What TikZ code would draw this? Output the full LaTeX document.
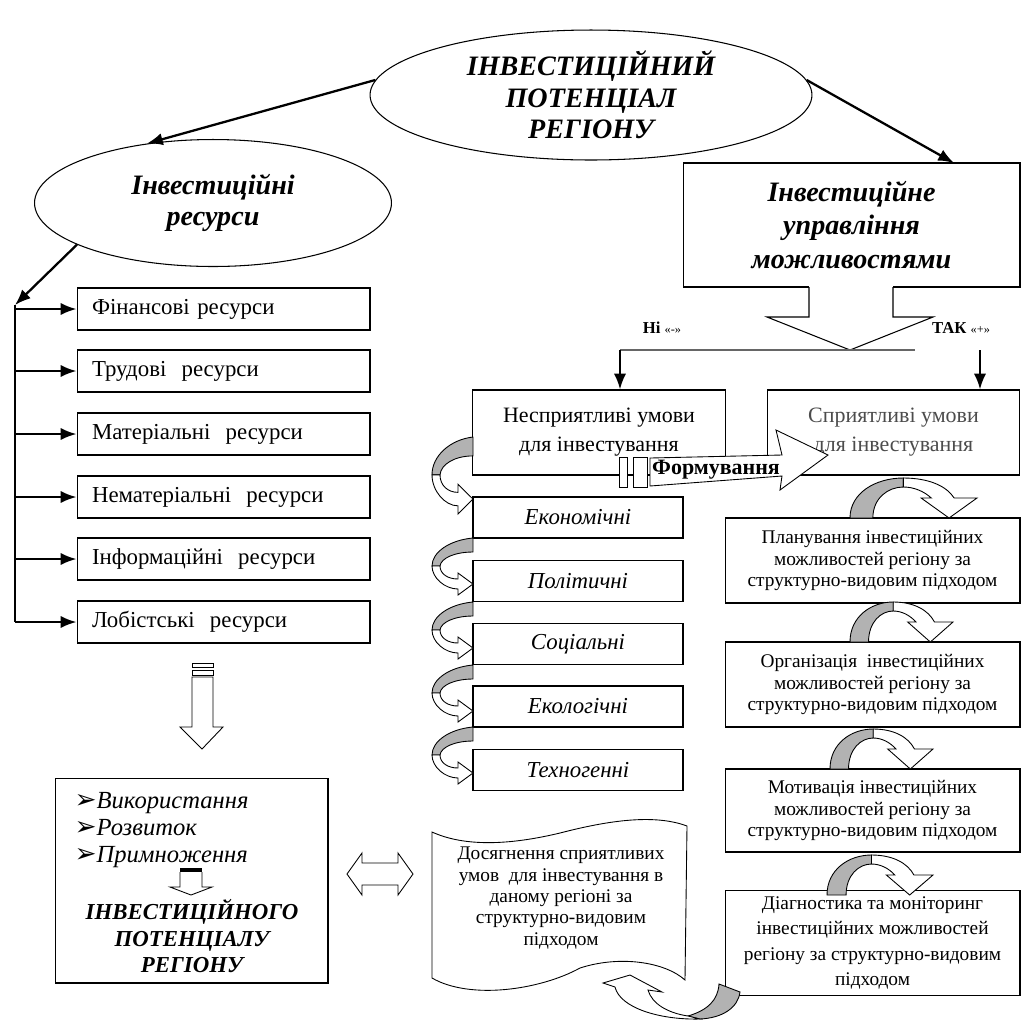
\documentclass[tikz,border=0pt]{standalone}
\usepackage{fontspec}
\setmainfont{Liberation Serif}
\newfontfamily\dejavu{DejaVu Sans}
\usepackage{tikz}
\usetikzlibrary{shapes.geometric,arrows.meta}

\begin{document}
\begin{tikzpicture}[x=0.02cm, y=-0.02cm, line width=0.6pt,
    oval/.style={ellipse, draw, align=center, inner sep=0pt,
        font=\fontsize{16}{18}\selectfont\bfseries\itshape},
    res/.style={draw, minimum height=0.84cm, text width=5.26cm, inner xsep=0.3cm,
        align=left, font=\fontsize{13}{15}\selectfont},
    factor/.style={draw, minimum width=4.2cm, minimum height=0.82cm,
        font=\fontsize{13}{15}\selectfont\itshape},
    cond/.style={draw, minimum width=5.05cm, minimum height=1.7cm, align=center,
        font=\fontsize{12.5}{16.5}\selectfont},
    stage/.style={draw, minimum width=5.9cm, minimum height=1.7cm, align=center,
        font=\fontsize{11}{12.2}\selectfont},
    arr/.style={line width=1.3pt, -{Latex[length=9pt, width=7pt]}},
    hollow/.style={draw, fill=white, line width=0.5pt},
    back/.style={draw, fill=black!30, line width=0.5pt}]
    \useasboundingbox (0,0) rectangle (1028,1019);

    % top level
    \node[oval, minimum width=8.84cm, minimum height=2.6cm] (potential) at (591,95)
        {ІНВЕСТИЦІЙНИЙ\\ПОТЕНЦІАЛ\\РЕГІОНУ};
    \node[oval, minimum width=7.14cm, minimum height=2.54cm] (resources) at (213,203)
        {Інвестиційні\\ресурси};
    \node[draw, minimum width=6.74cm, minimum height=2.48cm, align=center,
        font=\fontsize{16}{19}\selectfont\bfseries\itshape] (mgmt) at (851.5,225)
        {Інвестиційне\\управління\\можливостями};
    \coordinate (mgmtin) at (954,163);
    \draw[arr] (potential.176) -- (resources.138);
    \draw[arr] (potential.4) -- (mgmtin);

    % resources
    \coordinate (fork) at (15,305);
    \draw[arr] (resources.197) -- (fork);
    \foreach \yy/\txt [count=\i] in {309/{Фінансові ресурси}, 371/{Трудові\ \ ресурси},
        434/{Матеріальні\ \ ресурси}, 497/{Нематеріальні\ \ ресурси},
        559/{Інформаційні\ \ ресурси}, 622/{Лобістські\ \ ресурси}} {
        \node[res] (r\i) at (223.5,\yy) {\txt};
        \coordinate (f\i) at (15,\yy);
        \draw[arr] (f\i) -- (r\i.west);
    }
    \draw[line width=0.8pt] (fork) -- (f6);

    % big hollow arrow down
    \draw[hollow] (192,663) rectangle (213,667);
    \draw[hollow] (192,670) rectangle (213,675);
    \draw[hollow] (192,677) -- (192,727) -- (180,727) -- (202,749) -- (223,727)
        -- (213,727) -- (213,677) -- cycle;

    % result box
    \node[draw, minimum width=5.46cm, minimum height=4.1cm] (usebox) at (191.5,880.5) {};
    \foreach \yy/\txt [count=\i] in {808/Використання, 835/Розвиток, 862/Примноження}
        \node[anchor=base west, inner sep=0pt, font=\fontsize{14}{15}\selectfont\itshape]
            (aim\i) at (74,\yy) {{\dejavu\fontsize{15}{15}\selectfont ➢}\txt};
    \fill (180,868) rectangle (202,872);
    \draw[hollow] (180,872) -- (180,887) -- (170,887) -- (191,895) -- (212,887)
        -- (202,887) -- (202,872);
    \node[align=center, font=\fontsize{13}{15.3}\selectfont\bfseries\itshape] (goal)
        at (192,936) {ІНВЕСТИЦІЙНОГО\\ПОТЕНЦІАЛУ\\РЕГІОНУ};

    % two-way arrow
    \draw[hollow] (347,874) -- (362,853) -- (362,863) -- (398,863) -- (398,853)
        -- (413,874) -- (398,895) -- (398,885) -- (362,885) -- (362,895) -- cycle;

    % management arrow
    \fill[white] (809,283) rectangle (893,291);
    \draw (809,287) -- (809,317) -- (767,317) -- (850,350) -- (933,317)
        -- (893,317) -- (893,287);
    \coordinate (nol) at (620,350);
    \coordinate (yesl) at (980,350);
    \coordinate (lineend) at (915,350);
    \draw[black!60] (nol) -- (lineend);
    \node[font=\fontsize{9.5}{11}\selectfont\bfseries] (no) at (662,328)
        {Ні {\mdseries\fontsize{7}{8}\selectfont«-»}};
    \node[font=\fontsize{9.5}{11}\selectfont\bfseries] (yes) at (961,328)
        {ТАК {\mdseries\fontsize{7}{8}\selectfont«+»}};

    % conditions
    \node[cond] (bad) at (599,432.5) {Несприятливі умови\\для інвестування};
    \node[cond, text=black!70] (good) at (893.5,432.5) {Сприятливі умови\\для інвестування};
    \draw[arr] (nol) -- (nol |- bad.north);
    \draw[arr] (yesl) -- (yesl |- good.north);

    % factors
    \foreach \yy/\txt [count=\i] in {517.5/Економічні, 581/Політичні, 644/Соціальні,
        706.5/Екологічні, 770/Техногенні}
        \node[factor] (k\i) at (578,\yy) {\txt};
    \foreach \yy/\ss in {437/1.35, 538/1, 602/1, 665/1, 727/1} {
        \begin{scope}[shift={(473,\yy)}, yscale=\ss]
            \draw[back] (0,0) .. controls (-23,2) and (-41,14) .. (-41,28) -- (-33,28)
                .. controls (-32,20) and (-18,14) .. (0,14) -- cycle;
            \draw[hollow] (-41,28) .. controls (-41,40) and (-28,51) .. (-15,51)
                -- (-15,57) -- (0,46) -- (-15,35) -- (-15,41)
                .. controls (-25,41) and (-33,36) .. (-33,28) -- cycle;
        \end{scope}
    }

    % stages
    \node[stage] (plan) at (872.5,560.5)
        {Планування інвестиційних\\можливостей регіону за\\структурно-видовим підходом};
    \node[stage] (org) at (872.5,684.5)
        {Організація\ \ інвестиційних\\можливостей регіону за\\структурно-видовим підходом};
    \node[stage, minimum height=1.66cm] (motiv) at (872.5,810.5)
        {Мотивація інвестиційних\\можливостей регіону за\\структурно-видовим підходом};
    \node[stage, minimum height=1.92cm, font=\fontsize{11}{14.5}\selectfont] (diag)
        at (872.5,943) {Діагностика та моніторинг\\інвестиційних можливостей\\регіону за
        структурно-видовим\\підходом};
    \foreach \xx/\yy/\ww in {850/518/1.27, 850/642/1.03, 830/769/1.03, 827/895/1.06} {
        \begin{scope}[shift={(\xx,\yy)}, xscale=\ww]
            \draw[back] (0,0) .. controls (0,-25) and (20,-40) .. (42,-40) -- (42,-31)
                .. controls (30,-31) and (18,-20) .. (18,0) -- cycle;
            \draw[hollow] (42,-40) .. controls (62,-40) and (76,-32) .. (82,-20)
                -- (100,-20) -- (78,0) -- (56,-20) -- (64,-20)
                .. controls (58,-27) and (50,-31) .. (42,-31) -- cycle;
        \end{scope}
    }

    % forming arrow
    \draw[hollow] (619,457) rectangle (627,487);
    \draw[hollow] (633,457) rectangle (647,487);
    \draw[hollow] (650,458) -- (782,455) -- (776,430) -- (828,455) -- (780,490)
        -- (782,476) -- (650,486) -- cycle;
    \node[font=\fontsize{12.5}{14}\selectfont\bfseries] (form) at (716,470) {Формування};

    % achievement
    \draw[hollow] (432,832) .. controls (465,847) and (510,845) .. (560,833)
        .. controls (610,820) and (655,814) .. (687,826) -- (685,980)
        .. controls (665,962) and (620,955) .. (580,968)
        .. controls (540,990) and (470,1000) .. (432,978) -- cycle;
    \node[align=center, font=\fontsize{11}{12.2}\selectfont] (reach) at (561,898)
        {Досягнення сприятливих\\умов\ \ для інвестування в\\даному регіоні за\\структурно-видовим\\підходом};
    \draw[back] (740,992) .. controls (738,1008) and (722,1018) .. (700,1019)
        -- (688,1016) .. controls (708,1010) and (718,1000) .. (719,984) -- cycle;
    \draw[hollow] (700,1019) .. controls (660,1020) and (620,1008) .. (615,987)
        -- (603,983) -- (630,975) -- (662,992) -- (648,990)
        .. controls (652,1004) and (668,1013) .. (688,1016) -- cycle;
\end{tikzpicture}
\end{document}
